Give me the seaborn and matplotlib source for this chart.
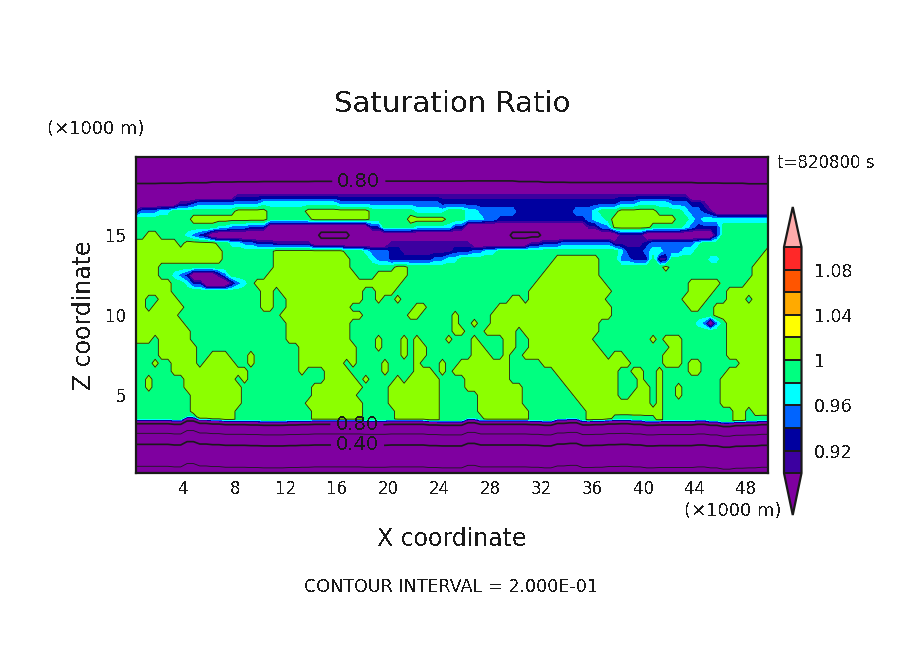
import numpy as np
import matplotlib
matplotlib.use("Agg")
import matplotlib.pyplot as plt
import seaborn as sns

# band values used in the run-coded rows
band_values = {"X": 0.77, "P": 0.85, "I": 0.91, "D": 0.93, "B": 0.95,
               "C": 0.97, "G": 0.99, "Y": 1.01}

# saturation ratio, z = 17.5 km down to 3.5 km every 0.5 km; each token: band + last column (of 100)
field_rows = [
    "P16 I87 P100",
    "P7 I9 D10 B20 C32 B48 D76 B79 C84 B87 D89 I90 P100",
    "I1 B4 C6 G16 Y21 G27 Y37 G44 C49 G52 C54 B60 D69 B72 C73 G76 Y82 G86 C87 B89 D90 I91 P100",
    "G9 Y21 G28 Y37 G43 Y49 G52 C55 B57 D71 B72 C74 G75 Y85 G87 C88 B89 C100",
    "G13 C15 B18 D21 P37 D39 G44 C50 D52 P71 I73 B75 Y81 G86 C87 B88 D92 G100",
    "G2 Y4 G8 C9 B10 D11 I12 P29 X34 P59 X64 P76 I80 P91 D92 G100",
    "Y7 G8 Y13 G15 C17 B19 D22 I28 P40 I53 P62 I64 D67 B75 I80 D81 B88 C89 G100",
    "Y14 G22 Y33 G36 C37 B40 D42 I50 D53 B55 C57 G76 C77 D80 B81 C83 B86 C88 G99 Y100",
    "Y14 G22 Y34 G37 C38 B40 D47 B49 C51 G66 Y73 G76 B78 D81 G82 I84 G90 C92 G98 Y100",
    "Y4 G22 Y34 G41 Y43 G65 Y73 G83 Y84 G97 Y100",
    "Y4 G6 C7 B8 D9 P13 I14 B15 G21 Y35 G38 Y43 G64 Y73 G97 Y100",
    "Y6 G8 C9 D11 P15 I16 B17 C18 G19 Y42 G63 Y74 G87 Y92 G96 Y100",
    "Y6 G20 Y22 G23 Y36 G38 Y41 G62 Y75 G87 Y91 G93 Y100",
    "Y2 G4 Y7 G20 Y22 G24 Y36 G38 Y39 G41 Y42 G59 Y61 G62 Y74 G86 Y90 G93 Y96 G97 Y100",
    "Y2 G3 Y8 G20 Y22 G24 Y34 G44 Y46 G57 Y75 G87 Y89 G91 Y100",
    "Y7 G23 Y36 G43 Y45 G50 Y51 G56 Y75 G91 Y100",
    "Y8 G24 Y34 G50 Y51 G53 Y54 G56 Y73 G88 C89 B90 P91 B92 G93 Y100",
    "Y9 G24 Y34 G50 Y52 G55 Y60 G61 Y73 G93 Y100",
    "Y3 G4 Y9 G24 Y34 G38 Y39 G42 Y43 G44 Y45 G49 Y50 G53 Y54 G58 Y60 G62 Y72 G81 Y82 G83 Y86 G93 Y100",
    "G4 Y10 G26 Y35 G38 Y39 G42 Y43 G44 Y46 G53 Y55 G58 Y60 G62 Y73 G84 Y86 G93 Y100",
    "G4 Y10 G12 Y15 G18 Y19 G26 Y35 G42 Y43 G44 Y46 G53 Y56 G58 Y59 G61 Y74 G75 Y77 G83 Y86 G93 Y100",
    "G3 Y4 G6 Y10 G11 Y16 G18 Y19 G26 Y33 G34 Y35 G39 Y40 G44 Y45 G48 Y49 G51 Y59 G64 Y78 G83 Y86 G87 Y89 G95 Y100",
    "G6 Y18 G26 Y27 G30 Y34 G39 Y40 G44 Y47 G48 Y49 G50 Y59 G66 Y76 G78 Y80 G82 Y83 G87 Y89 G93 Y100",
    "G2 Y3 G8 Y16 G17 Y18 G30 Y35 G36 Y37 G41 Y42 G43 Y48 G52 Y59 G67 Y76 G79 Y80 G82 Y83 G92 Y100",
    "G2 Y3 G8 Y17 G28 Y36 G40 Y48 G52 Y61 G68 Y76 G79 Y81 G82 Y83 G85 Y86 G92 Y100",
    "G9 Y17 G28 Y35 G40 Y48 G54 Y61 G69 Y76 G78 Y81 G82 Y83 G85 Y86 G92 Y100",
    "G9 Y17 G27 Y36 G40 Y48 G54 Y61 G70 Y81 G82 Y83 G92 Y100",
    "G9 Y16 G28 Y36 G41 Y48 G54 Y62 G71 Y83 G94 Y96 G97 Y100",
    "G10 Y16 G28 Y36 G41 Y48 G55 Y62 G71 Y75 G82 Y83 G94 Y96 G100",
]
field_z = [17.5, 17.0, 16.5, 16.0, 15.5, 15.0, 14.5, 14.0, 13.5, 13.0, 12.5, 12.0, 11.5,
           11.0, 10.5, 10.0, 9.5, 9.0, 8.5, 8.0, 7.5, 7.0, 6.5, 6.0, 5.5, 5.0, 4.5, 4.0, 3.5]

# stratosphere: ratio at z=18.2 km, per group of 4 columns, and at the model top
strat_mid = [.802, .803, .805, .808, .809, .810, .810, .811, .812, .812, .812, .812, .812,
             .813, .813, .810, .807, .806, .806, .806, .806, .806, .804, .803, .801]
strat_top = 0.70
strat_z = [18.2, 19.9]

# boundary layer: height of the constant-ratio surfaces and their vertical displacement per km of x
low_z = [3.36, 3.16, 2.56, 1.87, 0.50]
low_ratio = [0.905, 0.80, 0.60, 0.40, 0.20]
floor_z, floor_ratio = 0.10, 0.12
low_lift = [.06, .06, .06, .02, .23, .08, .04, 0, 0, -.02, -.04, -.04, -.02, 0, .02, .02, .02,
            .02, 0, 0, .02, .02, .02, -.02, -.04, -.04, .12, .02, .02, .02, .02, 0, -.04, .08,
            .12, -.02, 0, .04, .06, .02, -.04, -.02, -.02, -.02, .02, -.04, -.12, -.06, -.04, 0]

levels_fill = [.90, .92, .94, .96, .98, 1.00, 1.02, 1.04, 1.06, 1.08, 1.10]
levels_thin = [.2, .6, 1.0]
levels_thick = [.4, .8]
band_colors = ["#3c00a0", "#0000a0", "#0064ff", "#00ffff", "#00ff80", "#8cff00",
               "#ffff00", "#ffaa00", "#ff5500", "#ff2828"]
under_color, over_color = "#7f00a0", "#ffaaaa"
x_major = [4, 8, 12, 16, 20, 24, 28, 32, 36, 40, 44, 48]
y_major = [5, 10, 15]
cbar_ticks = [.92, .96, 1.0, 1.04, 1.08]
cbar_labels = ["0.92", "0.96", "1", "1.04", "1.08"]


def expand(row):
    out, start = [], 0
    for tok in row.split():
        end = int(tok[1:])
        out += [band_values[tok[0]]] * (end - start)
        start = end
    return out


sns.set_theme(style="white", context="notebook")
plt.rcParams["font.family"] = ["DejaVu Sans"]
plt.rcParams["text.antialiased"] = False

x = 0.25 + 0.5 * np.arange(100)
lift = np.repeat(low_lift, 2)
rows_v, rows_y = [np.full(100, floor_ratio)], [np.full(100, floor_z)]
for zv, v in zip(low_z[::-1], low_ratio[::-1]):
    rows_v.append(np.full(100, v))
    rows_y.append(zv + lift)
for zv, r in list(zip(field_z, field_rows))[::-1]:
    rows_v.append(np.array(expand(r)))
    rows_y.append(zv + lift if zv == 3.5 else np.full(100, zv))
rows_v.append(np.repeat(strat_mid, 4))
rows_y.append(np.full(100, strat_z[0]))
rows_v.append(np.full(100, strat_top))
rows_y.append(np.full(100, strat_z[1]))
Z = np.array(rows_v)
Y = np.array(rows_y)
X = np.tile(x, (Z.shape[0], 1))

W, H = 904, 654
fig = plt.figure(figsize=(W / 100, H / 100), dpi=100, facecolor="white")
ax = fig.add_axes([136 / W, 1 - 473 / H, 632 / W, 316 / H])

cmap = matplotlib.colors.ListedColormap(band_colors)
cmap.set_under(under_color)
cmap.set_over(over_color)
norm = matplotlib.colors.BoundaryNorm(levels_fill, cmap.N)
cf = ax.contourf(X, Y, Z, levels=levels_fill, cmap=cmap, norm=norm, extend="both", antialiased=False)
ax.contour(X, Y, Z, levels=levels_thin, colors="k", linewidths=0.6, linestyles="solid", antialiased=True)
cs = ax.contour(X, Y, Z, levels=levels_thick, colors="k", linewidths=1.2, linestyles="solid", antialiased=True)

ax.set_xlim(0.25, 49.75)
ax.set_ylim(0.14, 19.89)
labels = ax.clabel(cs, fmt="%.2f", fontsize=14, inline=True, inline_spacing=5,
                   manual=[(17.7, 18.3), (17.55, 3.1), (17.6, 1.87)])
for t in labels:
    t.set_rotation(0)
    t.set_color("k")

ax.set_xticks(x_major)
ax.set_yticks(y_major)
ax.set_xticks(np.arange(2, 50, 4), minor=True)
ax.set_yticks([v for v in range(1, 20) if v % 5], minor=True)
ax.tick_params(which="major", direction="in", length=7, width=1.3, top=True, right=True,
               bottom=True, left=True, labelsize=12, colors="k", pad=7)
ax.tick_params(axis="x", which="major", pad=5)
ax.tick_params(which="minor", direction="in", length=3.5, width=0.8, top=True, right=True,
               bottom=True, left=True)
for s in ax.spines.values():
    s.set_linewidth(1.6)
    s.set_color("k")

# the axes holds the interior bar and both pointed ends
cax = fig.add_axes([784 / W, 1 - 515 / H, 17.5 / W, 308 / H])
cb = fig.colorbar(cf, cax=cax, extend="both", extendfrac=[0.185, 0.177], drawedges=True,
                  ticks=cbar_ticks, spacing="uniform")
cb.ax.set_yticklabels(cbar_labels)
cb.ax.minorticks_off()
cb.ax.tick_params(which="both", length=0, labelsize=12.5, pad=9, colors="k")
cb.dividers.set_linewidth(1.4)
cb.dividers.set_color("k")
cb.outline.set_linewidth(1.6)
cb.outline.set_edgecolor("k")


def label(px, py, s, size, **kw):
    kw.setdefault("ha", "center")
    fig.text(px / W, 1 - py / H, s, fontsize=size, va="center", color="k", **kw)


label(452, 104, "Saturation Ratio", 21)
label(47, 129, "(\u00d71000 m)", 13, ha="left")
label(777, 163, "t=820800 s", 12, ha="left")
label(84, 315, "Z coordinate", 17, rotation=90)
label(452, 539, "X coordinate", 17)
label(684, 511, "(\u00d71000 m)", 13, ha="left")
label(451, 587, "CONTOUR INTERVAL = 2.000E-01", 12.6)

fig.savefig("out.png", dpi=100)
